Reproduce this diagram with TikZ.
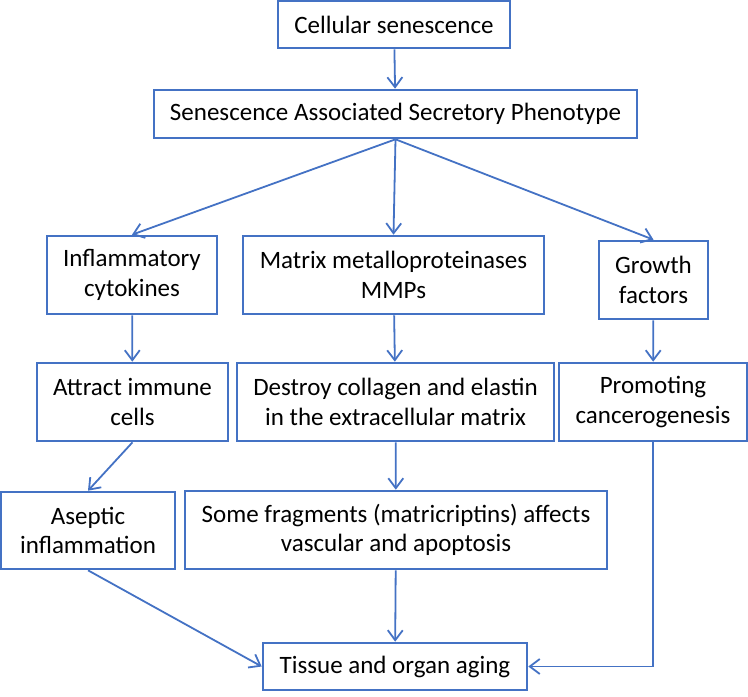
\documentclass[tikz,border=0pt]{standalone}
\usepackage{fontspec}
\setmainfont{Carlito}
\usepackage{tikz}
\usetikzlibrary{arrows.meta}
\definecolor{officeblue}{HTML}{4472C4}

\begin{document}
\begin{tikzpicture}[x=1pt,y=-1pt,
    box/.style={draw=officeblue, line width=2.6pt, align=center, inner sep=0pt,
                font=\fontsize{25}{29.5}\selectfont},
    link/.style={draw=officeblue, line width=1.8pt, -{Straight Barb[length=10pt,width=15pt,line width=1.8pt]}}]
                \useasboundingbox (0,0) rectangle (748,697);
                \node[box, minimum width=232, minimum height=47] (cell) at (394,24.5) {Cellular senescence};
                \node[box, minimum width=483, minimum height=48] (sasp) at (395.5,114) {Senescence Associated Secretory Phenotype};
                \node[box, minimum width=170, minimum height=78] (infl) at (132,275) {Inflammatory\\cytokines};
                \node[box, minimum width=301, minimum height=78] (mmp) at (393.5,275) {Matrix metalloproteinases\\MMPs};
                \node[box, minimum width=109, minimum height=78] (growth) at (653.5,280) {Growth\\factors};
                \node[box, minimum width=191, minimum height=78] (attract) at (132.5,402) {Attract immune\\cells};
                \node[box, minimum width=317, minimum height=78] (destroy) at (395.5,402) {Destroy collagen and elastin\\in the extracellular matrix};
                \node[box, minimum width=188, minimum height=78] (promo) at (653,402) {Promoting\\cancerogenesis};
                \node[box, minimum width=174, minimum height=77] (aseptic) at (88,530.5) {Aseptic\\inflammation};
                \node[box, minimum width=422, minimum height=78] (frag) at (396,530) {Some fragments (matricriptins) affects\\vascular and apoptosis};
                \node[box, minimum width=264, minimum height=47] (tissue) at (395,666.5) {Tissue and organ aging};
                \draw[link] (cell) -- (sasp);
                \draw[link] (sasp.south) -- (infl.north);
                \draw[link] (sasp.south) -- (mmp.north);
                \draw[link] (sasp.south) -- (growth.north);
                \draw[link] (infl) -- (attract);
                \draw[link] (mmp) -- (destroy);
                \draw[link] (growth) -- (promo);
                \draw[link] (attract.south) -- (aseptic.north);
                \draw[link] (destroy) -- (frag);
                \draw[link] (aseptic.south) -- (tissue.west);
                \draw[link] (frag) -- (tissue);
                \draw[link] (promo.south) |- (tissue.east);
            \end{tikzpicture}
\end{document}
